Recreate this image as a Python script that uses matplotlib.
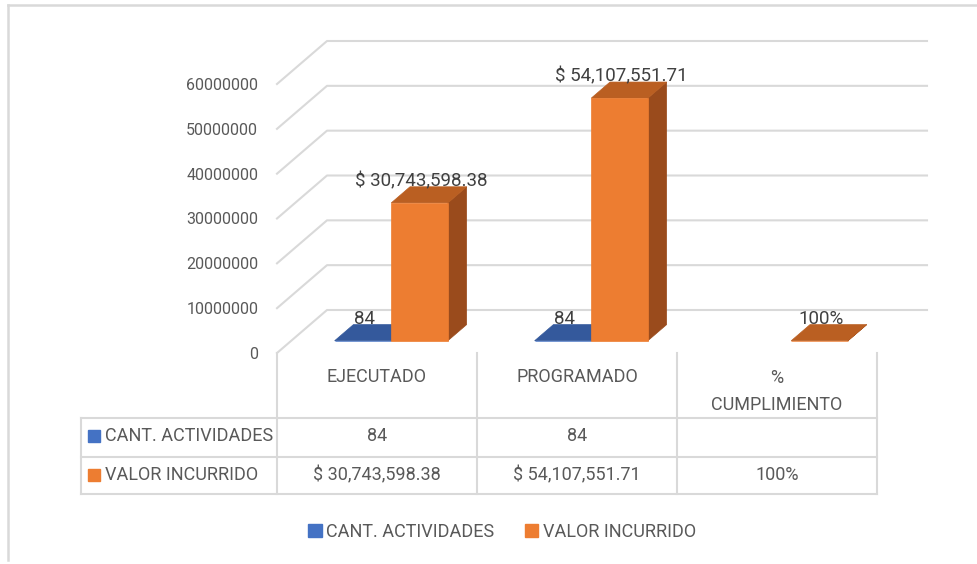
import matplotlib
matplotlib.use("Agg")
import matplotlib.pyplot as plt
from matplotlib.patches import Polygon, Patch
from matplotlib.lines import Line2D

plt.rcParams['font.family'] = ['Roboto', 'DejaVu Sans']

# data
categorias = ['EJECUTADO', 'PROGRAMADO', '%\nCUMPLIMIENTO']
cant_actividades = [84, 84, None]
valor_incurrido = [30743598.38, 54107551.71, 1.0]
cant_textos = ['84', '84', '']
valor_textos = ['$ 30,743,598.38', '$ 54,107,551.71', '100%']
series = ['CANT. ACTIVIDADES', 'VALOR INCURRIDO']
yticks = [0, 10000000, 20000000, 30000000, 40000000, 50000000, 60000000]

# colours (Excel style)
gris_txt = '#595959'
gris_lin = '#D9D9D9'
azul = '#4472C4'
azul_top = '#34599C'
naranja = '#ED7D31'
naranja_top = '#BA5F22'
naranja_lado = '#9A4B1C'

W, H = 977, 564
fig = plt.figure(figsize=(W / 100, H / 100), dpi=100)
fs_eje = 11.5   # value axis
fs_tab = 13     # table + legend
fs_lab = 13.5   # data labels

# border of the chart area
fig.add_artist(Line2D([8 / W, 1], [1 - 5 / H, 1 - 5 / H], color=gris_lin, lw=1.8))
fig.add_artist(Line2D([8 / W, 8 / W], [1 - 5 / H, 1 - 560 / H], color=gris_lin, lw=1.8))

# main plot area = front plane of the 3d box
ax = fig.add_axes([277 / W, (H - 353) / H, 600 / W, 269 / H])
ax.set_xlim(-0.5, 2.5)
ax.set_ylim(0, 60000000)
for s in ax.spines.values():
    s.set_visible(False)
ax.set_xticks([])
ax.set_yticks(yticks)
ax.set_yticklabels([str(v) for v in yticks], fontsize=fs_eje, color=gris_txt)
ax.tick_params(axis='y', length=0, pad=13.5)
ax.patch.set_alpha(0)

# depth of the box in data units
DX = 50 / 200
DY = 43 / 269 * 60000000
d0, d1 = 0.285, 0.66
bw = 0.283

for v in yticks:
    ax.plot([-0.5, -0.5 + DX, 2.5 + DX], [v, v + DY, v + DY], color=gris_lin, lw=1.5,
            clip_on=False, zorder=1)


def barra(x0, x1, h, c_front, c_top, c_side):
    f = [(x0 + d0 * DX, d0 * DY), (x1 + d0 * DX, d0 * DY),
         (x1 + d0 * DX, h + d0 * DY), (x0 + d0 * DX, h + d0 * DY)]
    t = [(x0 + d0 * DX, h + d0 * DY), (x1 + d0 * DX, h + d0 * DY),
         (x1 + d1 * DX, h + d1 * DY), (x0 + d1 * DX, h + d1 * DY)]
    sd = [(x1 + d0 * DX, d0 * DY), (x1 + d1 * DX, d1 * DY),
          (x1 + d1 * DX, h + d1 * DY), (x1 + d0 * DX, h + d0 * DY)]
    for pts, c in [(sd, c_side), (t, c_top), (f, c_front)]:
        ax.add_patch(Polygon(pts, closed=True, facecolor=c, edgecolor=c, lw=0.5,
                             clip_on=False, zorder=3))


def etiqueta(xc, h, txt):
    ax.text(xc + d0 * DX + 0.008, h + d1 * DY + 200000, txt, ha='center', va='baseline',
            fontsize=fs_lab, color='#404040', zorder=5, clip_on=False)


for i in range(len(categorias)):
    if cant_actividades[i] is not None:
        barra(i - bw, i, cant_actividades[i], azul, azul_top, azul_top)
        etiqueta(i - bw / 2, cant_actividades[i], cant_textos[i])
    barra(i, i + bw, valor_incurrido[i], naranja, naranja_top, naranja_lado)
    etiqueta(i + bw / 2, valor_incurrido[i], valor_textos[i])

# data table under the plot
tab = fig.add_axes([81 / W, (H - 494) / H, 796 / W, 141 / H])
tab.set_xlim(-1.48, 2.5)
tab.set_ylim(141, 0)
tab.axis('off')
filas = [0, 65, 104, 141]
for xc in [-0.5, 0.5, 1.5, 2.5]:
    tab.plot([xc, xc], [0, 141], color=gris_lin, lw=1.5, clip_on=False)
tab.plot([-1.48, -1.48], [65, 141], color=gris_lin, lw=1.5, clip_on=False)
for yv in filas[1:]:
    tab.plot([-1.48, 2.5], [yv, yv], color=gris_lin, lw=1.5, clip_on=False)

for i, cat in enumerate(categorias):
    if '\n' in cat:
        tab.text(i, 38.5, cat, ha='center', va='center', fontsize=fs_tab, color=gris_txt,
                 linespacing=1.6)
    else:
        tab.text(i, 24, cat, ha='center', va='center', fontsize=fs_tab, color=gris_txt)

ycent = [83, 122]
for r, (nombre, col, textos) in enumerate([(series[0], azul, cant_textos),
                                           (series[1], naranja, valor_textos)]):
    tab.plot([-1.4175], [ycent[r]], marker='s', ms=8, color=col, clip_on=False)
    tab.text(-1.36, ycent[r], nombre, ha='left', va='center', fontsize=fs_tab, color=gris_txt)
    for i, t in enumerate(textos):
        tab.text(i, ycent[r], t, ha='center', va='center', fontsize=fs_tab, color=gris_txt)

# legend
handles = [Patch(facecolor=azul, edgecolor=azul), Patch(facecolor=naranja, edgecolor=naranja)]
fig.legend(handles, series, loc='center', bbox_to_anchor=(502 / W, 1 - 532 / H), ncol=2,
           frameon=False, fontsize=fs_tab, labelcolor=gris_txt, handlelength=0.75,
           handleheight=0.75, handletextpad=0.25, columnspacing=1.7)

fig.savefig('out.png', dpi=100)
